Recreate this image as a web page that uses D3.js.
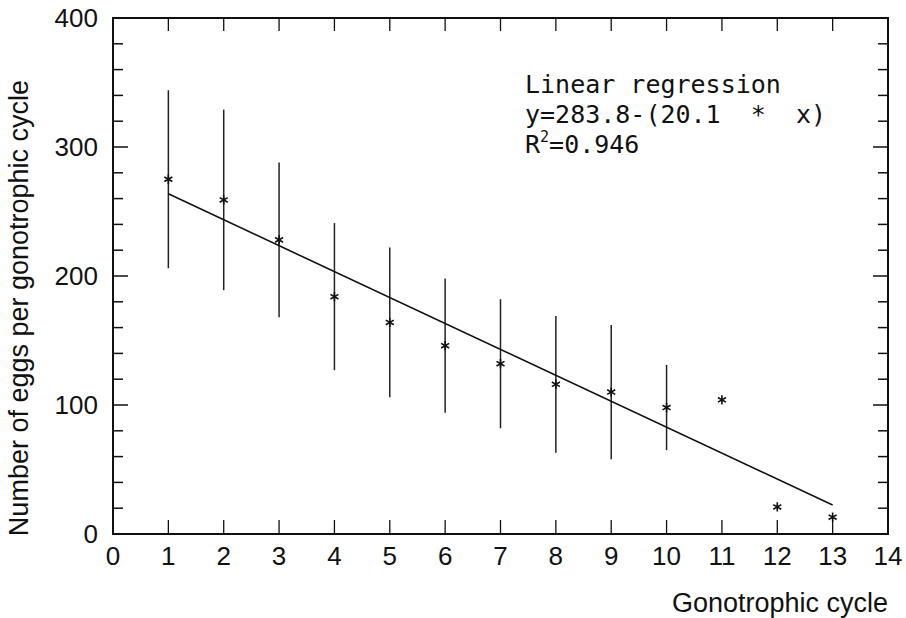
<!DOCTYPE html>
<html><head><meta charset="utf-8">
<script src="https://cdn.jsdelivr.net/npm/d3@7"></script>
<style>body{margin:0;background:#fff}svg{display:block}</style>
</head><body>
<script>
const cycles   = [1,2,3,4,5,6,7,8,9,10,11,12,13];
const meanEggs = [275,259,228,184,164,146,132,116,110,98,104,21,13];
const sdEggs   = [69,70,60,57,58,52,50,53,52,33,0,0,0];
const xTicks = d3.range(0,15);
const yMajorTicks = [0,100,200,300,400];
const yMinorTicks = d3.range(20,400,20).filter(v=>v%100!==0);
const intercept = 283.8, slope = -20.1;
const fitRange = [1,13];
const annotation = ["Linear regression","y=283.8-(20.1  *  x)"];
const r2Text = "=0.946";

const W=906,H=618;
const svg=d3.select("body").append("svg").attr("width",W).attr("height",H);
const x=d3.scaleLinear().domain([0,14]).range([113,888]);
const y=d3.scaleLinear().domain([0,400]).range([534,18]);
const ink="#111";

// frame
svg.append("rect").attr("x",x(0)).attr("y",y(400)).attr("width",x(14)-x(0)).attr("height",y(0)-y(400))
  .attr("fill","none").attr("stroke",ink).attr("stroke-width",2);

// x ticks bottom and top (inward)
const gx=svg.append("g").attr("stroke",ink).attr("stroke-width",1.3);
xTicks.filter(d=>d>0&&d<14).forEach(d=>{
  gx.append("line").attr("x1",x(d)).attr("x2",x(d)).attr("y1",y(0)).attr("y2",y(0)-14);
  gx.append("line").attr("x1",x(d)).attr("x2",x(d)).attr("y1",y(400)).attr("y2",y(400)+13);
});
// y ticks left and right (inward)
const gy=svg.append("g").attr("stroke",ink).attr("stroke-width",1.5);
yMajorTicks.filter(d=>d>0&&d<400).forEach(d=>{
  gy.append("line").attr("x1",x(0)).attr("x2",x(0)+15).attr("y1",y(d)).attr("y2",y(d));
  gy.append("line").attr("x1",x(14)).attr("x2",x(14)-15).attr("y1",y(d)).attr("y2",y(d));
});
yMinorTicks.forEach(d=>{
  gy.append("line").attr("x1",x(0)).attr("x2",x(0)+10).attr("y1",y(d)).attr("y2",y(d));
  gy.append("line").attr("x1",x(14)).attr("x2",x(14)-10).attr("y1",y(d)).attr("y2",y(d));
});

// tick labels
const lf="'Liberation Sans', Arial, sans-serif";
svg.append("g").selectAll("text").data(xTicks).join("text")
  .attr("x",d=>x(d)).attr("y",565).attr("text-anchor","middle")
  .attr("font-family",lf).attr("font-size",26).attr("fill",ink).text(d=>d);
svg.append("g").selectAll("text").data(yMajorTicks).join("text")
  .attr("x",98).attr("y",d=>y(d)+9).attr("text-anchor","end")
  .attr("font-family",lf).attr("font-size",26).attr("fill",ink).text(d=>d);

// axis titles
svg.append("text").attr("x",888).attr("y",612).attr("text-anchor","end")
  .attr("font-family",lf).attr("font-size",27).attr("fill",ink).text("Gonotrophic cycle");
svg.append("text").attr("transform","translate(28,308) rotate(-90)").attr("text-anchor","middle")
  .attr("font-family",lf).attr("font-size",27).attr("fill",ink).text("Number of eggs per gonotrophic cycle");

// error bars
const data=cycles.map((c,i)=>({c,m:meanEggs[i],s:sdEggs[i]}));
svg.append("g").selectAll("line").data(data.filter(d=>d.s>0)).join("line")
  .attr("x1",d=>x(d.c)).attr("x2",d=>x(d.c)).attr("y1",d=>y(d.m+d.s)).attr("y2",d=>y(d.m-d.s))
  .attr("stroke","#222").attr("stroke-width",1.5);

// regression line
svg.append("line").attr("x1",x(fitRange[0])).attr("y1",y(intercept+slope*fitRange[0]))
  .attr("x2",x(fitRange[1])).attr("y2",y(intercept+slope*fitRange[1]))
  .attr("stroke",ink).attr("stroke-width",1.6);

// points
const sym=d3.symbol().type(d3.symbolAsterisk).size(60);
svg.append("g").selectAll("path").data(data).join("path")
  .attr("transform",d=>`translate(${x(d.c)},${y(d.m)})`).attr("d",sym)
  .attr("fill","none").attr("stroke",ink).attr("stroke-width",1.6);

// annotation
const mf="'DejaVu Sans Mono', monospace";
const ann=svg.append("g").attr("font-family",mf).attr("font-size",25).attr("fill",ink);
annotation.forEach((t,i)=>{
  ann.append("text").attr("x",525).attr("y",93+i*30).style("white-space","pre").text(t);
});
const r=ann.append("text").attr("x",525).attr("y",153).style("white-space","pre");
r.append("tspan").text("R");
r.append("tspan").attr("dy",-11).attr("font-size",15).text("2");
r.append("tspan").attr("dy",11).text(r2Text);
</script>
</body></html>
